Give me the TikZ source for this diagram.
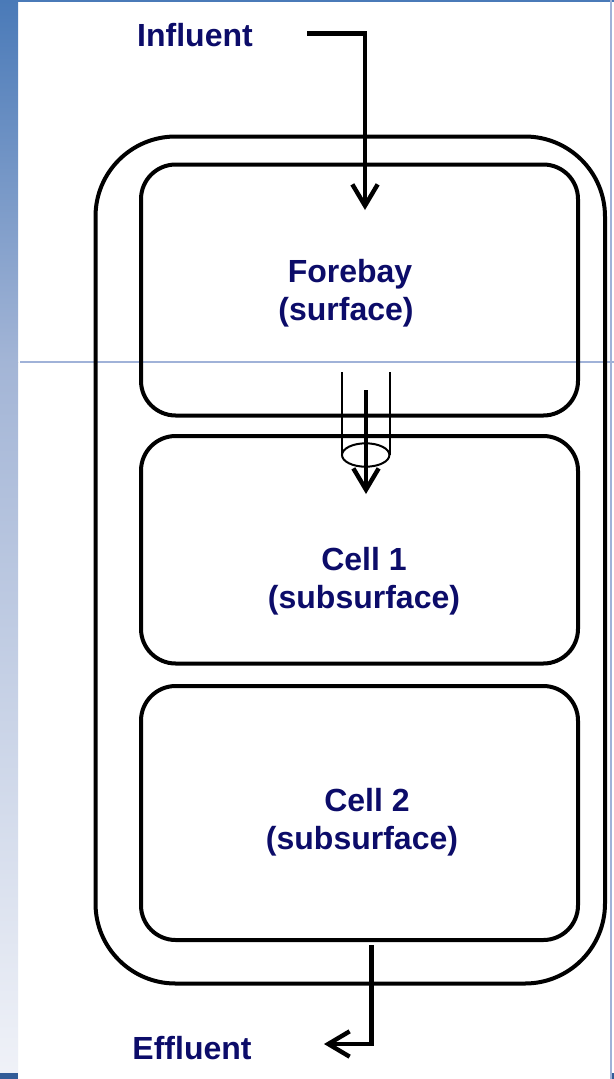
\documentclass[tikz,border=0pt]{standalone}
\usepackage{fontspec}
\setmainfont{Liberation Sans}
\usetikzlibrary{arrows.meta}
\definecolor{labelnavy}{RGB}{12,12,105}
\definecolor{stripTop}{RGB}{74,122,184}
\definecolor{stripMid}{RGB}{163,181,214}
\definecolor{stripBot}{RGB}{240,242,248}
\definecolor{rule}{RGB}{160,178,216}
\definecolor{edgeDark}{RGB}{50,92,152}
\tikzset{
  tank/.style={draw=black, line width=3pt, rounded corners=60pt},
  cellbox/.style={draw=black, line width=3pt, rounded corners=26pt},
  flow/.style={draw=black, line width=3.3pt,
    -{Straight Barb[length=16pt,width=19pt,line width=3.3pt]}},
  pipe/.style={draw=black, line width=1.5pt},
  label/.style={font=\fontsize{24}{29}\selectfont\bfseries, text=labelnavy,
    inner sep=0pt, anchor=base},
}
\begin{document}
\begin{tikzpicture}[x=0.75pt,y=-0.75pt]
\useasboundingbox (0,0) rectangle (614,1079);
\fill[white] (0,0) rectangle (614,1079);
% side band and frame lines
\shade[top color=stripTop, bottom color=stripMid] (0,0) rectangle (18,362);
\shade[top color=stripMid, bottom color=stripBot] (0,362) rectangle (18,1079);
\fill[stripTop] (0,0) rectangle (614,1.5);
\fill[rule] (609.5,0) rectangle (612,1079);
\fill[edgeDark] (0,1073) rectangle (18,1079);
\fill[edgeDark] (612,1073) rectangle (614,1079);
\draw[rule, line width=0.9pt] (20,362) -- (614,362);

% tank and its three cells
\draw[tank] (95.5,136.5) rectangle (605,983.5);
\draw[cellbox] (141,164.5) rectangle (578,415.5);
\draw[cellbox] (141,436) rectangle (578,663.5);
\draw[cellbox] (141,686) rectangle (578,940);

% labels
\node[label] (influent) at (195,46) {Influent};
\node[label] (forebay) at (350,282) {Forebay};
\node[label] (forebaySub) at (346,320) {(surface)};
\node[label] (cellA) at (364,570) {Cell 1};
\node[label] (cellASub) at (364,608) {(subsurface)};
\node[label] (cellB) at (367,811) {Cell 2};
\node[label] (cellBSub) at (362,849) {(subsurface)};
\node[label] (effluent) at (192,1059) {Effluent};

% inflow into the forebay
\coordinate (inStart) at (307,33.5);
\coordinate (inTip) at (365,210);
\draw[flow] (inStart) -| (inTip);

% standpipe between forebay and cell 1
\coordinate (pipeLtop) at (342,372);
\coordinate (pipeLbot) at (342,455);
\coordinate (pipeRtop) at (389.5,372);
\coordinate (pipeRbot) at (389.5,455);
\coordinate (pipeMouth) at (365.7,455);
\draw[pipe] (pipeLtop) -- (pipeLbot);
\draw[pipe] (pipeRtop) -- (pipeRbot);
\draw[pipe] (pipeMouth) ellipse [x radius=23.7, y radius=11.7];
\coordinate (dropStart) at (366,390);
\coordinate (dropTip) at (366,494);
\draw[flow] (dropStart) -- (dropTip);

% outflow from cell 2
\coordinate (outStart) at (371.5,945);
\coordinate (outTip) at (324,1044);
\draw[flow] (outStart) |- (outTip);
\end{tikzpicture}
\end{document}
